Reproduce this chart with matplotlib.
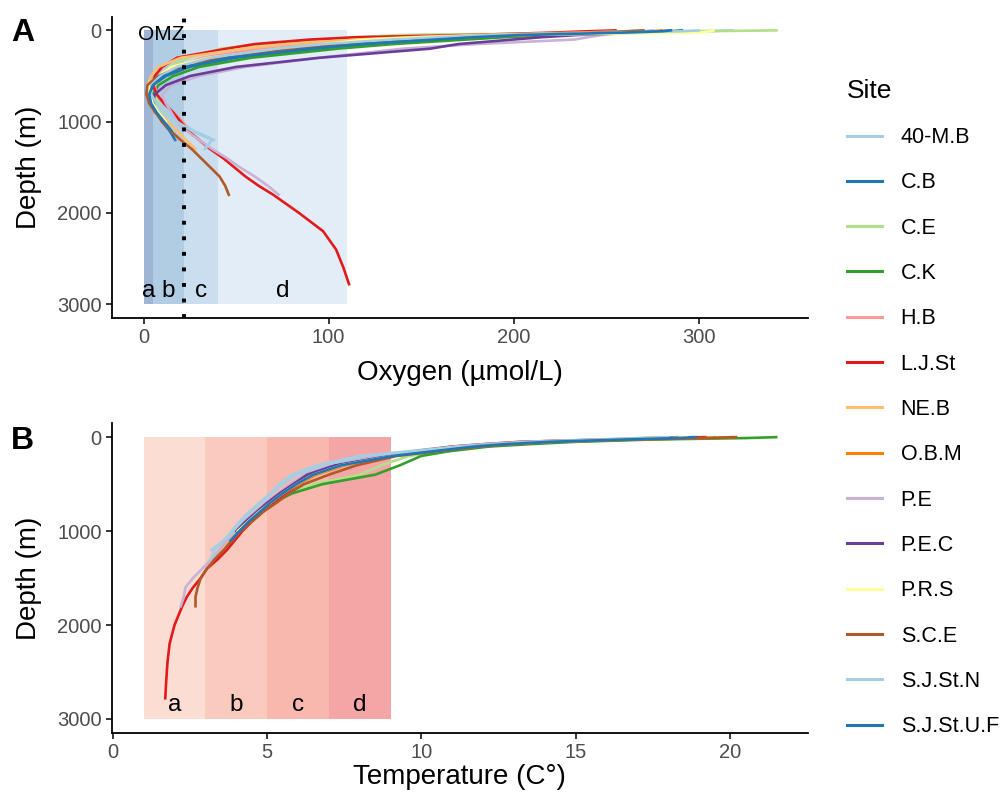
import matplotlib.pyplot as plt
from matplotlib.lines import Line2D

plt.rcParams['font.family'] = ['Liberation Sans', 'DejaVu Sans']

# CTD profiles per site on a shared depth grid (m)
depth = [0, 10, 25, 50, 75, 100, 150, 200, 300, 400, 500, 600, 700, 800, 900,
         1000, 1100, 1200, 1300, 1400, 1500, 1600, 1700, 1800, 2000, 2200,
         2400, 2600, 2780]

sites = ['40-M.B', 'C.B', 'C.E', 'C.K', 'H.B', 'L.J.St', 'NE.B', 'O.B.M',
         'P.E', 'P.E.C', 'P.R.S', 'S.C.E', 'S.J.St.N', 'S.J.St.U.F']
colors = ['#A6CEE3', '#1F78B4', '#B2DF8A', '#33A02C', '#FB9A99', '#E31A1C',
          '#FDBF6F', '#FF7F00', '#CAB2D6', '#6A3D9A', '#FFFF99', '#B15928',
          '#A6CEE3', '#1F78B4']

# oxygen (umol/L)
o2_40MB = [318, 300, 262, 195, 165, 140, 100, 75, 38, 19, 9, 4, 4, 7, 11, 19, 27, 38]
o2_CB = [291, 289, 265, 215, 185, 165, 125, 95, 50, 25, 12, 5, 3, 4, 7, 10, 14, 17]
o2_CE = [342, 300, 265, 140, 115, 100, 65, 42, 24, 14, 9, 6, 6, 8, 11]
o2_CK = [290, 285, 270, 225, 195, 175, 135, 105, 58, 30, 16, 8, 5, 6]
o2_HB = [270, 262, 240, 185, 150, 125, 88, 62, 32, 17, 9, 6, 7, 11, 16, 21, 25]
o2_LJSt = [255, 240, 220, 178, 115, 90, 60, 45, 18, 10, 6, 5, 7, 11, 16, 20, 24,
           30, 36, 43, 49, 55, 62, 70, 84, 97, 104, 108, 111]
o2_NEB = [270, 260, 235, 180, 145, 115, 78, 54, 20, 8, 4, 2, 2, 4, 8, 13, 18, 23, 28]
o2_OBM = [280, 275, 255, 205, 175, 150, 112, 85, 42, 20, 9, 4, 3, 4, 6]
o2_PE = [275, 270, 262, 248, 240, 233, 180, 140, 95, 55, 30, 15, 10, 12, 15, 18,
         23, 30, 37, 45, 52, 60, 67, 73]
o2_PEC = [285, 280, 265, 235, 215, 200, 170, 155, 95, 50, 25, 12, 6, 5, 7, 10]
o2_PRS = [308, 306, 300, 200, 150, 120, 98, 82, 35, 15, 8, 3, 3, 5, 8, 12]
o2_SCE = [270, 262, 245, 200, 170, 148, 110, 82, 42, 20, 8, 2, 1.5, 3, 6.5, 10,
          14.5, 20, 26, 31, 36, 41, 44, 46]
o2_SJStN = [300, 290, 252, 190, 160, 135, 97, 72, 36, 18, 9, 4, 4, 7, 12, 18, 26, 37, 33]
o2_SJStUF = [285, 280, 258, 205, 178, 158, 118, 90, 46, 23, 11, 5, 3, 4, 7, 11, 15]

# temperature (C)
t_40MB = [17.8, 17.0, 15.8, 13.2, 12.0, 11.0, 9.6, 8.0, 6.6, 5.8, 5.4, 5.1, 4.75,
          4.4, 4.1, 3.85, 3.6, 3.2]
t_CB = [18.8, 18.2, 16.5, 14.0, 12.6, 11.6, 10.3, 9.0, 7.3, 6.4, 5.9, 5.45, 5.05,
        4.7, 4.35, 4.05, 3.8, 3.5]
t_CE = [19.5, 19.0, 17.0, 14.5, 13.0, 12.0, 10.8, 9.6, 8.7, 8.0, 6.5, 5.7, 5.15, 4.75, 4.4]
t_CK = [21.5, 20.5, 17.5, 15.0, 13.5, 12.2, 10.9, 10.0, 9.3, 8.5, 6.8, 5.8, 5.2, 4.75]
t_HB = [19.0, 18.3, 16.3, 13.8, 12.4, 11.4, 10.1, 8.8, 7.2, 6.3, 5.8, 5.4, 5.0,
        4.65, 4.3, 4.0, 3.75]
t_LJSt = [19.2, 18.4, 16.0, 13.2, 12.0, 11.0, 9.8, 8.7, 7.2, 6.5, 6.0, 5.6, 5.2,
          4.85, 4.5, 4.2, 3.95, 3.7, 3.4, 3.05, 2.85, 2.6, 2.4, 2.25, 2.0, 1.84,
          1.77, 1.73, 1.7]
t_NEB = [17.6, 17.2, 16.0, 13.8, 12.5, 11.5, 10.2, 8.9, 7.3, 6.4, 5.9, 5.45, 5.05,
         4.7, 4.35, 4.05, 3.8, 3.5, 3.25]
t_OBM = [20.1, 19.2, 16.8, 14.2, 12.8, 11.8, 10.4, 9.1, 7.5, 6.6, 6.0, 5.5, 5.1, 4.75, 4.4]
t_PE = [18.5, 18.0, 16.2, 13.7, 12.3, 11.3, 10.0, 8.7, 7.1, 6.2, 5.75, 5.35, 4.95,
        4.6, 4.25, 3.95, 3.7, 3.45, 3.2, 2.9, 2.6, 2.35, 2.3, 2.2]
t_PEC = [18.3, 17.8, 16.4, 14.0, 12.6, 11.6, 10.3, 9.0, 7.2, 6.3, 5.85, 5.4, 5.0,
         4.65, 4.3, 4.0]
t_PRS = [18.6, 18.1, 16.5, 14.1, 12.7, 11.7, 10.4, 9.1, 7.4, 6.5, 5.95, 5.5, 5.1,
         4.72, 4.38, 4.05]
t_SCE = [20.2, 19.3, 16.9, 14.3, 12.9, 11.9, 10.5, 9.2, 7.9, 7.0, 6.2, 5.7, 5.3,
         4.85, 4.5, 4.15, 3.85, 3.6, 3.3, 3.05, 2.85, 2.75, 2.68, 2.68]
t_SJStN = [18.0, 17.3, 15.9, 13.4, 12.1, 11.1, 9.7, 8.2, 6.8, 5.95, 5.5, 5.15, 4.8,
           4.45, 4.15, 3.9, 3.6, 3.3, 3.17]
t_SJStUF = [18.9, 18.3, 16.6, 14.1, 12.7, 11.7, 10.4, 9.1, 7.4, 6.5, 5.95, 5.5, 5.1,
            4.75, 4.4, 4.1, 3.82]

oxygen = [o2_40MB, o2_CB, o2_CE, o2_CK, o2_HB, o2_LJSt, o2_NEB, o2_OBM, o2_PE,
          o2_PEC, o2_PRS, o2_SCE, o2_SJStN, o2_SJStUF]
temperature = [t_40MB, t_CB, t_CE, t_CK, t_HB, t_LJSt, t_NEB, t_OBM, t_PE, t_PEC,
               t_PRS, t_SCE, t_SJStN, t_SJStUF]

# shaded classes
band_names = ['a', 'b', 'c', 'd']
o2_edges = [0, 5, 22, 40, 110]
o2_band_colors = ['#A0B4D4', '#B1CDE4', '#CADEEF', '#E2EDF7']
temp_edges = [1, 3, 5, 7, 9]
temp_band_colors = ['#FBDDD3', '#FBCABF', '#F9B8AE', '#F4A6A6']
band_depth = [0, 3000]
omz_limit = 22

fig = plt.figure(figsize=(10.04, 8.02), dpi=100)
ax1 = fig.add_axes([0.1116, 0.6035, 0.693, 0.3757])
ax2 = fig.add_axes([0.1116, 0.086, 0.693, 0.3865])

for ax, edges, bcols in [(ax1, o2_edges, o2_band_colors), (ax2, temp_edges, temp_band_colors)]:
    for i in range(4):
        ax.fill_betweenx(band_depth, edges[i], edges[i + 1], color=bcols[i], lw=0, zorder=0)
        ax.text((edges[i] + edges[i + 1]) / 2, 2850, band_names[i], ha='center',
                va='center', fontsize=17.5, zorder=5)

for o2, temp, col in zip(oxygen, temperature, colors):
    ax1.plot(o2, depth[:len(o2)], color=col, lw=1.9, zorder=2)
    ax2.plot(temp, depth[:len(temp)], color=col, lw=1.9, zorder=2)

ax1.axvline(omz_limit, color='black', lw=2.8, ls=(0, (1, 3)), zorder=4)
ax1.text(omz_limit, 50, 'OMZ', ha='right', va='center', fontsize=15, zorder=5)

ax1.set_xlim(-17.1, 359)
ax1.set_xticks([0, 100, 200, 300])
ax2.set_xlim(-0.025, 22.525)
ax2.set_xticks([0, 5, 10, 15, 20])
for ax in (ax1, ax2):
    ax.set_ylim(3150, -150)
    ax.set_yticks([0, 1000, 2000, 3000])
    ax.set_ylabel('Depth (m)', fontsize=20, labelpad=11)
    for s in ['top', 'right']:
        ax.spines[s].set_visible(False)
    for s in ['left', 'bottom']:
        ax.spines[s].set_linewidth(1.3)
    ax.tick_params(labelsize=14.5, labelcolor='#4D4D4D', width=1.1, length=4)
ax1.set_xlabel('Oxygen (µmol/L)', fontsize=20, labelpad=9)
ax2.set_xlabel('Temperature (C°)', fontsize=20, labelpad=1)

fig.text(0.011, 0.978, 'A', fontsize=23, fontweight='bold', va='top')
fig.text(0.011, 0.469, 'B', fontsize=23, fontweight='bold', va='top')

handles = [Line2D([], [], color=c, lw=2.2) for c in colors]
leg = fig.legend(handles, sites, loc='upper left', bbox_to_anchor=(0.824, 0.926),
                 frameon=False, title='Site', fontsize=15.5, title_fontsize=19,
                 handlelength=1.63, handletextpad=0.88, labelspacing=1.13,
                 alignment='left')

fig.savefig('out.png', dpi=100)
